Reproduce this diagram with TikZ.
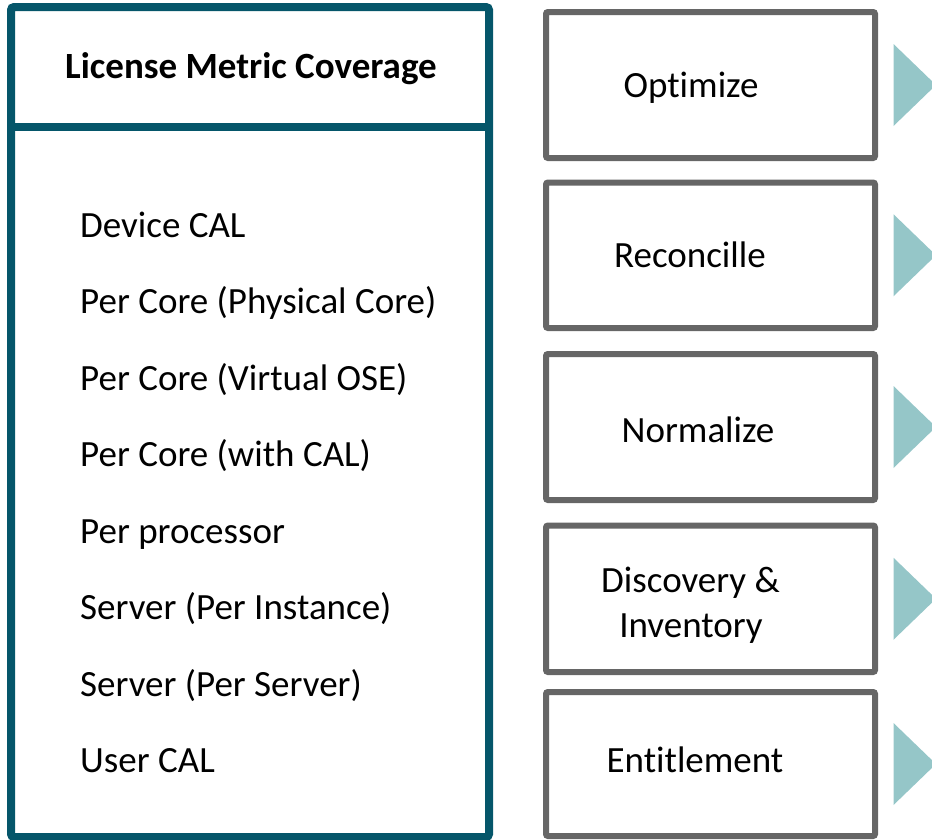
\documentclass[tikz,border=0pt]{standalone}
\usepackage{fontspec}
\setmainfont{Carlito}[Ligatures=NoCommon]
\begin{document}
\begin{tikzpicture}[x=1pt,y=-1pt,
  panel/.style={draw=tealdark,line width=8pt,rounded corners=3pt},
  stepbox/.style={draw=boxgray,line width=6pt,rounded corners=2pt,fill=white,
    minimum width=329pt,inner sep=0pt},
  pointer/.style={fill=tealsoft,draw=none},
  item/.style={anchor=base west,inner sep=0pt,font=\fontsize{37}{45}\selectfont},
  label/.style={anchor=base,inner sep=0pt,align=center,font=\fontsize{37}{45}\selectfont},
]
\definecolor{tealdark}{HTML}{05566A}
\definecolor{boxgray}{HTML}{666666}
\definecolor{tealsoft}{HTML}{95C6C8}
\useasboundingbox (0,0) rectangle (932,839);

% Left panel: header and list of license metrics
\draw[panel] (11,7) rectangle (489,837);
\draw[tealdark,line width=8pt] (11,127) -- (489,127);
\node[anchor=base,inner sep=0pt,font=\fontsize{37}{45}\selectfont\bfseries] (head) at (251,78) {License Metric Coverage};

\node[item] (m1) at (80,237) {Device CAL};
\node[item] (m2) at (80,313.5) {Per Core (Physical Core)};
\node[item] (m3) at (80,390) {Per Core (Virtual OSE)};
\node[item] (m4) at (80,466.5) {Per Core (with CAL)};
\node[item] (m5) at (80,543) {Per processor};
\node[item] (m6) at (80,619.5) {Server (Per Instance)};
\node[item] (m7) at (80,696) {Server (Per Server)};
\node[item] (m8) at (80,772.5) {User CAL};

% Right column: process steps
\node[stepbox,minimum height=146pt] (s1) at (710.5,85) {};
\node[stepbox,minimum height=145.5pt] (s2) at (710.5,255.25) {};
\node[stepbox,minimum height=146pt] (s3) at (710.5,427) {};
\node[stepbox,minimum height=146.5pt] (s4) at (710.5,598.75) {};
\node[stepbox,minimum height=144pt] (s5) at (710.5,764) {};

\node[label] (t1) at (691,97) {Optimize};
\node[label] (t2) at (690,267) {Reconcille};
\node[label] (t3) at (698,442) {Normalize};
\node[label] (t4a) at (690.5,592) {Discovery \&};
\node[label] (t4b) at (691,637) {Inventory};
\node[label] (t5) at (695,772) {Entitlement};

% Pointers to the right of each step
\foreach \s in {s1,s2,s3,s4,s5}{
  \fill[pointer] ([xshift=15.5pt,yshift=41pt]\s.east) -- ([xshift=15.5pt,yshift=-41pt]\s.east)
    -- ([xshift=58pt]\s.east) -- cycle;
}
\end{tikzpicture}
\end{document}
